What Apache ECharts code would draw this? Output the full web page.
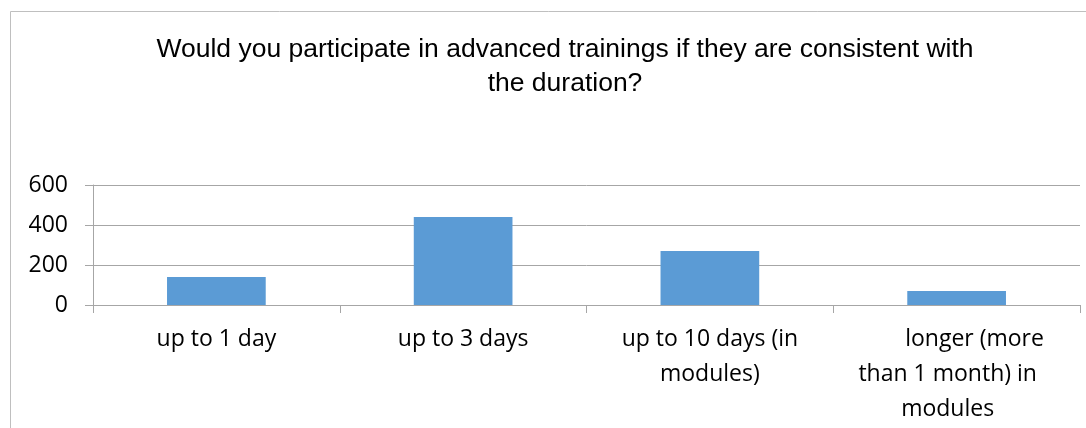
<!DOCTYPE html>
<html>
<head>
<meta charset="utf-8">
<script src="https://cdn.jsdelivr.net/npm/echarts@6/dist/echarts.min.js"></script>
<style>
  html, body { margin: 0; padding: 0; background: #fff; }
  #chart { width: 1086px; height: 428px; }
</style>
</head>
<body>
<div id="chart"></div>
<script>
const titleText = 'Would you participate in advanced trainings if they are consistent with\nthe duration?';
const categories = ['up to 1 day', 'up to 3 days', 'up to 10 days (in modules)', 'longer (more than 1 month) in modules'];
const tickLabels = ['up to 1 day', 'up to 3 days', 'up to 10 days (in\nmodules)', '      longer (more\nthan 1 month) in   \nmodules   '];
const values = [140, 440, 270, 70];

const chart = echarts.init(document.getElementById('chart'), null, { renderer: 'canvas' });

chart.setOption({
  animation: false,
  // outer chart-area frame
  graphic: [
    {
      type: 'polyline',
      shape: { points: [[10.5, 428], [10.5, 11.5], [1086, 11.5]] },
      style: { stroke: '#bfbfbf', lineWidth: 1, fill: null }
    }
  ],
  title: {
    text: titleText,
    left: 560,
    top: 28,
    textAlign: 'center',
    textStyle: {
      fontFamily: '"Liberation Sans", Arial, sans-serif',
      fontSize: 26.5,
      fontWeight: 'normal',
      color: '#000',
      lineHeight: 34
    }
  },
  grid: { left: 93, right: 6, top: 185, bottom: 123 },
  xAxis: {
    type: 'category',
    data: categories,
    axisLine: { lineStyle: { color: '#a6a6a6' } },
    axisTick: { show: true, length: 8, lineStyle: { color: '#a6a6a6' } },
    axisLabel: {
      interval: 0,
      margin: 17,
      color: '#000',
      fontFamily: '"Open Sans", sans-serif',
      fontSize: 23,
      lineHeight: 35,
      formatter: (v, i) => tickLabels[i]
    }
  },
  yAxis: {
    type: 'value',
    min: 0,
    max: 600,
    interval: 200,
    axisLine: { show: true, lineStyle: { color: '#a6a6a6' } },
    axisTick: { show: true, length: 8, lineStyle: { color: '#a6a6a6' } },
    splitLine: { show: true, lineStyle: { color: '#a6a6a6' } },
    axisLabel: {
      margin: 25,
      color: '#000',
      fontFamily: '"Open Sans", sans-serif',
      fontSize: 23
    }
  },
  series: [
    {
      type: 'bar',
      data: values,
      barWidth: '40%',
      itemStyle: { color: '#5b9bd5' }
    }
  ]
});
</script>
</body>
</html>
